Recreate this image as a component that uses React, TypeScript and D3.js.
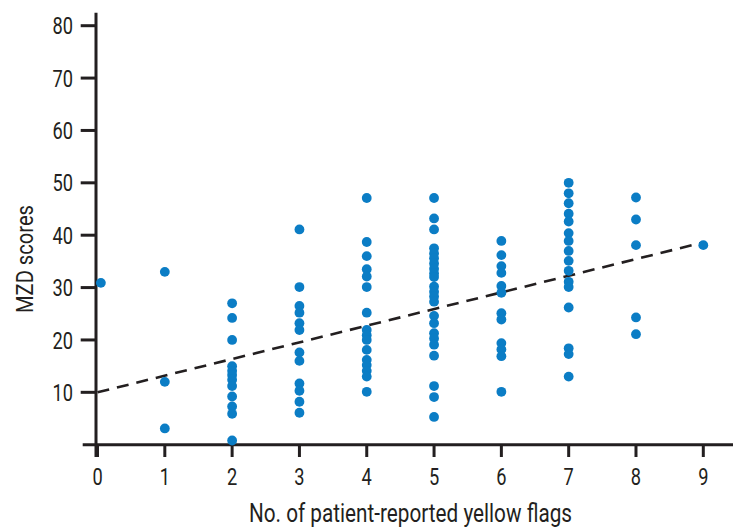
import React from "react";
import * as d3 from "d3";

const flagCounts = [0, 1, 2, 3, 4, 5, 6, 7, 8, 9];
const scoresByFlags: number[][] = [
  [30.9],
  [33.0, 12.0, 3.1],
  [27.0, 24.2, 20.0, 15.0, 14.1, 13.3, 12.4, 11.2, 9.2, 7.3, 5.9, 0.8],
  [41.1, 30.1, 26.5, 25.2, 23.2, 21.9, 17.6, 16.0, 11.7, 10.3, 8.2, 6.1],
  [47.1, 38.7, 36.0, 33.5, 32.1, 30.1, 25.2, 21.9, 20.9, 20.0, 18.1, 16.2, 15.2, 14.1, 13.0, 10.1],
  [47.1, 43.2, 41.1, 37.5, 36.5, 35.6, 34.6, 33.6, 32.7, 32.0, 30.2, 29.2, 28.3, 27.3, 24.6, 23.2, 21.3, 20.3, 19.1, 17.0, 11.2, 9.1, 5.3],
  [38.9, 36.2, 34.1, 32.8, 30.3, 29.0, 25.1, 23.9, 19.4, 18.2, 16.9, 10.1],
  [50.0, 48.0, 46.1, 44.1, 42.6, 40.4, 38.9, 37.0, 35.1, 33.2, 31.1, 30.1, 26.2, 18.4, 17.3, 13.0],
  [47.2, 43.0, 38.1, 24.3, 21.1],
  [38.1],
];
const xOffsets = [0.05, 0, 0, 0, 0, 0, 0, 0, 0, 0];
const yTicks = [10, 20, 30, 40, 50, 60, 70, 80];
const xTicks = [0, 1, 2, 3, 4, 5, 6, 7, 8, 9];
const trendIntercept = 10.0;
const trendSlope = 3.18;
const xTitle = "No. of patient-reported yellow flags";
const yTitle = "MZD scores";

const W = 747;
const H = 532;
const FONT = "Roboto, 'Liberation Sans', sans-serif";
const INK = "#231f20";
const DOT = "#0b7dc5";
const SX = 0.76;

export default function App() {
  const x = d3.scaleLinear().domain([0, 9]).range([97.5, 703.3]);
  const y = d3.scaleLinear().domain([0, 80]).range([444.7, 25.7]);
  const axisX = 96;
  const axisY = y(0);

  const points = flagCounts.flatMap((f, i) =>
    scoresByFlags[i].map((s) => ({ fx: f + xOffsets[i], s }))
  );

  const line = d3
    .line<number>()
    .x((d) => x(d))
    .y((d) => y(trendIntercept + trendSlope * d));

  return (
    <svg
      width={W}
      height={H}
      style={{ position: "absolute", left: 0, top: 0, background: "#fff" }}
    >
      {/* axes */}
      <line x1={axisX} x2={axisX} y1={12.7} y2={457} stroke={INK} strokeWidth={3} />
      <line x1={82.7} x2={733} y1={axisY} y2={axisY} stroke={INK} strokeWidth={3} />
      {yTicks.map((t) => (
        <g key={"y" + t}>
          <line x1={80.7} x2={axisX} y1={y(t)} y2={y(t)} stroke={INK} strokeWidth={3} />
          <text
            transform={`translate(73,${y(t)}) scale(${SX},1)`}
            dy="0.36em"
            textAnchor="end"
            fontFamily={FONT}
            fontWeight={400}
            fontSize={24}
            fill={INK}
          >
            {t}
          </text>
        </g>
      ))}
      {xTicks.map((t) => (
        <g key={"x" + t}>
          <line x1={x(t)} x2={x(t)} y1={axisY} y2={457} stroke={INK} strokeWidth={3} />
          <text
            transform={`translate(${x(t)},485) scale(${SX},1)`}
            textAnchor="middle"
            fontFamily={FONT}
            fontWeight={400}
            fontSize={24}
            fill={INK}
          >
            {t}
          </text>
        </g>
      ))}
      {/* trend */}
      <path
        d={line([0, 9]) || ""}
        fill="none"
        stroke={INK}
        strokeWidth={2.6}
        strokeDasharray="12 8"
      />
      {/* points */}
      {points.map((p, i) => (
        <circle key={i} cx={x(p.fx)} cy={y(p.s)} r={4.9} fill={DOT} />
      ))}
      {/* titles */}
      <text
        x={249}
        y={522}
        textLength={323}
        lengthAdjust="spacingAndGlyphs"
        fontFamily={FONT}
        fontWeight={400}
        fontSize={25}
        fill={INK}
      >
        {xTitle}
      </text>
      <text
        transform={`translate(33,313) rotate(-90)`}
        textLength={108}
        lengthAdjust="spacingAndGlyphs"
        fontFamily={FONT}
        fontWeight={400}
        fontSize={24}
        fill={INK}
      >
        {yTitle}
      </text>
    </svg>
  );
}
